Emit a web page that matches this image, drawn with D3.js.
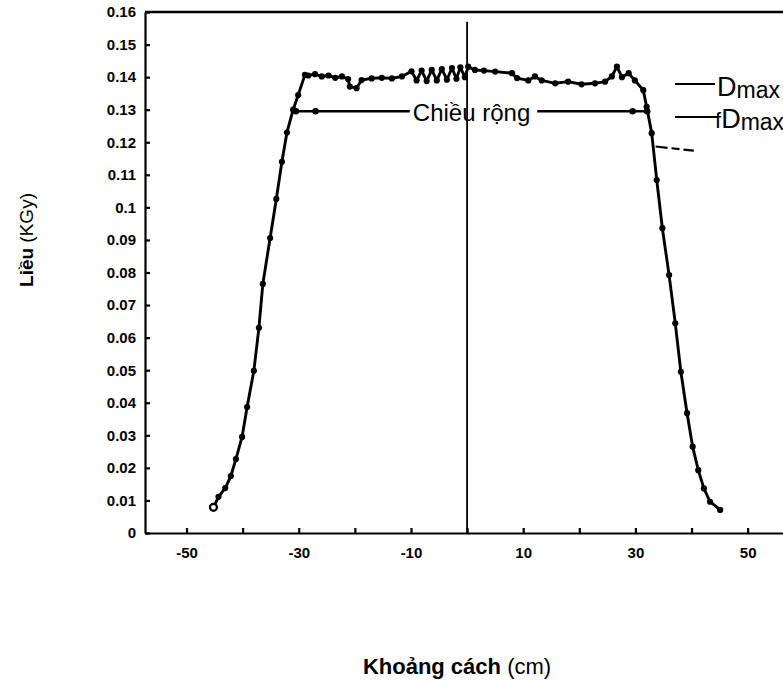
<!DOCTYPE html>
<html lang="vi">
<head>
    <meta charset="UTF-8">
    <title>Liều theo khoảng cách</title>
    <script src="https://d3js.org/d3.v7.min.js"></script>
    <style>
        body { margin: 0; background: #fff; }
        svg { display: block; font-family: "Liberation Sans", Arial, sans-serif; }
        .axis path, .axis line { stroke: #000; stroke-width: 2.2; }
        .axis text { font-size: 15px; font-weight: bold; fill: #000; }
    </style>
</head>
<body>
<svg id="chart"></svg>
<script>
// khoảng cách (cm) và liều (kGy)
const distance = [-45.2, -44.3, -43.1, -42.1, -41.2, -40.1, -39.2, -38.0, -37.1, -36.4, -35.1, -34.0,
    -33.0, -32.1, -31.0, -30.1, -28.9, -28.3, -27.1, -25.9, -24.7, -23.5, -22.3, -21.2, -20.9, -19.7,
    -18.8, -17.0, -15.2, -13.4, -11.6, -9.9, -9.0, -8.1, -7.2, -6.3, -5.4, -4.5, -3.6, -2.7, -1.9,
    -1.2, -0.4, 0.2, 1.4, 3.0, 5.0, 8.0, 8.9, 10.9, 12.1, 13.3, 15.7, 18.0, 20.4, 22.8, 24.6, 25.8,
    26.7, 27.6, 28.8, 29.9, 31.4, 32.0, 32.9, 33.8, 34.8, 36.0, 37.1, 38.1, 39.2, 40.2, 41.2, 42.2,
    43.3, 45.1];
const dose = [0.0079, 0.0111, 0.0138, 0.0175, 0.0227, 0.0295, 0.0387, 0.0498, 0.0630, 0.0765, 0.0906, 0.1026,
    0.1140, 0.1230, 0.1300, 0.1345, 0.1407, 0.1405, 0.1409, 0.1402, 0.1405, 0.1398, 0.1402, 0.1394, 0.1371, 0.1366,
    0.1391, 0.1396, 0.1398, 0.1396, 0.1402, 0.1418, 0.1390, 0.1420, 0.1388, 0.1422, 0.1390, 0.1425, 0.1392, 0.1428, 0.1395,
    0.1430, 0.1400, 0.1432, 0.1422, 0.1420, 0.1417, 0.1412, 0.1397, 0.1390, 0.1402, 0.1390, 0.1381, 0.1386, 0.1378, 0.1381, 0.1386, 0.1402,
    0.1432, 0.1400, 0.1412, 0.1390, 0.1360, 0.1309, 0.1228, 0.1084, 0.0936, 0.0792, 0.0644, 0.0495, 0.0368, 0.0265, 0.0193, 0.0137,
    0.0096, 0.0071];

// mức fDmax và chiều rộng
const fDmax = 0.1295;
const widthLeft = [-30.9, -10.2];
const widthRight = [12.5, 32.1];
const widthDots = [-30.5, -27.0, 29.5, 32.1];
const dashLine = [[33.6, 0.1187], [40.4, 0.1174]];

const xTicks = [-50, -40, -30, -20, -10, 0, 10, 20, 30, 40, 50];
const xTickLabels = ["-50", "", "-30", "", "-10", "", "10", "", "30", "", "50"];
const yTicks = [0, 0.01, 0.02, 0.03, 0.04, 0.05, 0.06, 0.07, 0.08, 0.09, 0.1, 0.11, 0.12, 0.13, 0.14, 0.15, 0.16];

const W = 783, H = 681;
const svg = d3.select("#chart").attr("width", W).attr("height", H);

const x = d3.scaleLinear().domain([-57.4, 56.3]).range([145, 783]);
const y = d3.scaleLinear().domain([0, 0.16]).range([533, 12]);

// khung trên
svg.append("line")
   .attr("x1", x(-57.4)).attr("x2", W)
   .attr("y1", y(0.16)).attr("y2", y(0.16))
   .attr("stroke", "#000").attr("stroke-width", 2.5);

// trục
svg.append("g")
   .attr("class", "axis")
   .attr("transform", `translate(0,${y(0)})`)
   .call(d3.axisBottom(x).tickValues(xTicks)
        .tickFormat((d, i) => xTickLabels[i])
        .tickSizeInner(-5).tickSizeOuter(0).tickPadding(14));

svg.append("g")
   .attr("class", "axis")
   .attr("transform", `translate(${x(-57.4)},0)`)
   .call(d3.axisLeft(y).tickValues(yTicks)
        .tickFormat(d3.format("~g"))
        .tickSizeInner(-5).tickSizeOuter(0).tickPadding(9));

// đường giữa
svg.append("line")
   .attr("x1", x(0)).attr("x2", x(0))
   .attr("y1", y(0.157)).attr("y2", y(0))
   .attr("stroke", "#000").attr("stroke-width", 1.8);

// fDmax - chiều rộng
[widthLeft, widthRight].forEach(seg => {
    svg.append("line")
       .attr("x1", x(seg[0])).attr("x2", x(seg[1]))
       .attr("y1", y(fDmax)).attr("y2", y(fDmax))
       .attr("stroke", "#000").attr("stroke-width", 2.5);
});
svg.selectAll(".wdot")
   .data(widthDots)
   .enter()
   .append("circle")
   .attr("cx", d => x(d))
   .attr("cy", y(fDmax))
   .attr("r", 3.3)
   .attr("fill", "#000");

svg.append("text")
   .attr("x", x(0.8))
   .attr("y", y(fDmax) + 10)
   .attr("text-anchor", "middle")
   .style("font-size", "24px")
   .text("Chiều rộng");

// đường đo liều
const pts = distance.map((d, i) => [d, dose[i]]);
svg.append("path")
   .datum(pts)
   .attr("fill", "none")
   .attr("stroke", "#000")
   .attr("stroke-width", 2.9)
   .attr("stroke-linejoin", "round")
   .attr("d", d3.line().x(d => x(d[0])).y(d => y(d[1])));

svg.selectAll(".dot")
   .data(pts)
   .enter()
   .append("circle")
   .attr("class", "dot")
   .attr("cx", d => x(d[0]))
   .attr("cy", d => y(d[1]))
   .attr("r", (d, i) => i === 0 ? 3.5 : 3.1)
   .attr("fill", (d, i) => i === 0 ? "#fff" : "#000")
   .attr("stroke", "#000")
   .attr("stroke-width", (d, i) => i === 0 ? 2.2 : 0);

// nét đứt bên phải
svg.append("path")
   .datum(dashLine)
   .attr("fill", "none")
   .attr("stroke", "#000")
   .attr("stroke-width", 2.2)
   .attr("stroke-dasharray", "12,4,8,4")
   .attr("d", d3.line().x(d => x(d[0])).y(d => y(d[1])));

// chú thích
svg.append("line").attr("x1", 675).attr("x2", 715).attr("y1", 84).attr("y2", 84)
   .attr("stroke", "#000").attr("stroke-width", 2.2);
const t1 = svg.append("text").attr("x", 717).attr("y", 96);
t1.append("tspan").style("font-size", "27px").text("D");
t1.append("tspan").style("font-size", "23px").attr("dy", 2).text("max");

svg.append("line").attr("x1", 675).attr("x2", 717).attr("y1", 117).attr("y2", 117)
   .attr("stroke", "#000").attr("stroke-width", 2.2);
const t2 = svg.append("text").attr("x", 715).attr("y", 128);
t2.append("tspan").style("font-size", "22px").text("f");
t2.append("tspan").style("font-size", "27px").text("D");
t2.append("tspan").style("font-size", "23px").attr("dy", 2).text("max");

// nhãn trục
const xl = svg.append("text")
   .attr("x", 457).attr("y", 674)
   .attr("text-anchor", "middle")
   .style("font-size", "22px");
xl.append("tspan").style("font-weight", "bold").text("Khoảng cách ");
xl.append("tspan").text("(cm)");

const yl = svg.append("text")
   .attr("transform", "translate(33,240) rotate(-90)")
   .attr("text-anchor", "middle")
   .style("font-size", "19px");
yl.append("tspan").style("font-weight", "bold").text("Liều ");
yl.append("tspan").text("(KGy)");
</script>
</body>
</html>
